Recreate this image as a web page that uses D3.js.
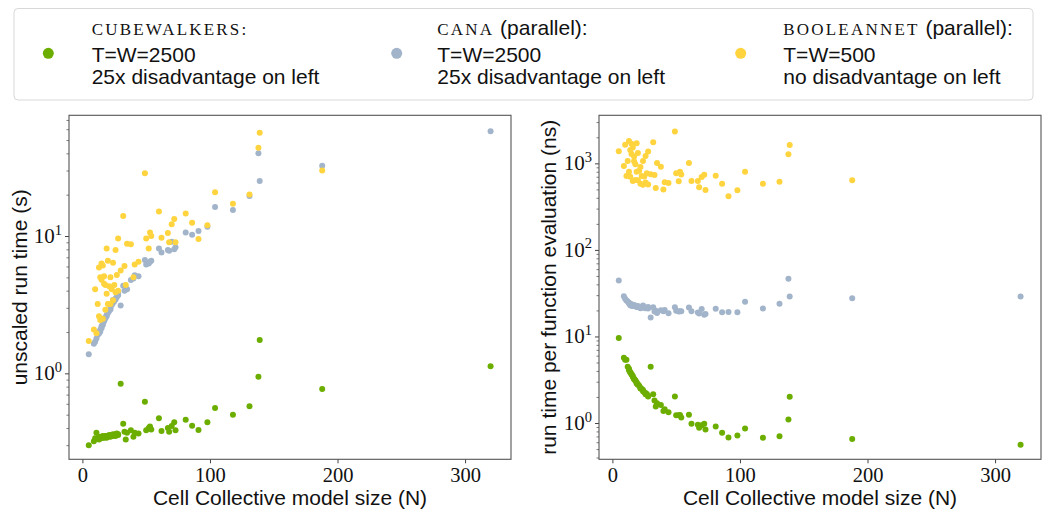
<!DOCTYPE html>
<html><head><meta charset="utf-8">
<script src="https://cdn.jsdelivr.net/npm/d3@7"></script>
<style>body{margin:0;background:#fff}</style>
</head><body><svg id="c" width="1050" height="522" xmlns="http://www.w3.org/2000/svg"></svg>
<script>
// ---- data ----
const modelSize = [5,9,10,11,12,13,13,14,14,15,15,16,16,17,17,18,18,19,19,20,20,21,22,22,23,24,24,25,26,26,27,28,28,30,32,33,34,35,38,40,41,44,49,50,52,53,54,60,62,67,68,70,72,73,81,86,91,98,104,118,131,138,139,188,320];
// unscaled run time (s)
const cubewalkersRuntime = [0.300,0.320,0.337,0.370,0.335,0.345,0.330,0.340,0.335,0.340,0.345,0.340,0.350,0.345,0.340,0.350,0.345,0.350,0.340,0.350,0.345,0.355,0.350,0.345,0.355,0.350,0.360,0.355,0.360,0.350,0.365,0.360,0.355,0.840,0.430,0.375,0.330,0.370,0.385,0.345,0.370,0.365,0.620,0.385,0.400,0.410,0.390,0.470,0.380,0.400,0.375,0.413,0.440,0.385,0.460,0.415,0.386,0.440,0.560,0.500,0.575,0.946,1.750,0.768,1.125];
const canaRuntime = [1.38,1.64,1.70,1.79,1.90,2.00,1.95,2.01,2.08,2.13,2.20,2.25,2.30,2.40,2.45,2.51,2.55,2.66,2.60,2.75,2.81,2.85,2.92,3.00,3.14,3.25,3.42,3.35,3.51,3.45,3.60,3.83,3.70,3.12,4.35,4.00,4.20,4.10,4.78,4.90,5.17,5.10,6.68,6.20,6.30,6.50,6.60,8.10,7.60,7.90,7.80,9.10,8.00,8.30,10.6,10.2,10.9,11.7,16.3,15.5,19.6,40.0,25.2,32.5,58.0];
const booleannetRuntime = [1.72,2.09,4.10,1.96,3.20,2.60,5.90,5.00,2.45,6.30,4.80,6.10,2.50,4.50,5.10,2.90,4.40,8.10,3.80,3.20,6.60,4.30,5.00,3.20,4.10,6.40,3.40,4.40,7.90,3.90,5.20,9.60,4.00,5.60,14.0,6.05,4.40,8.80,8.70,5.00,6.20,6.50,28.6,9.60,8.10,10.6,10.0,15.1,9.70,10.5,9.00,12.2,13.3,9.00,14.6,12.5,9.50,12.0,20.8,17.2,20.1,44.0,56.5,30.0,null];
// run time per function evaluation (ns)
const cubewalkersPerEval = [9.6,5.69,5.39,5.38,4.47,4.25,4.06,3.89,3.83,3.63,3.68,3.40,3.50,3.25,3.20,3.11,3.07,2.95,2.86,2.80,2.76,2.70,2.55,2.51,2.47,2.33,2.40,2.27,2.22,2.15,2.16,2.06,2.03,4.48,2.15,1.82,1.55,1.69,1.62,1.38,1.44,1.33,2.02,1.23,1.23,1.24,1.16,1.25,0.98,0.955,0.88,0.944,0.978,0.844,0.909,0.772,0.679,0.718,0.862,0.678,0.702,1.097,2.014,0.654,0.5625];
const canaPerEval = [44.2,29.2,27.2,26.0,25.3,24.6,24.0,23.0,23.8,22.7,23.5,22.5,23.0,22.6,23.1,22.3,22.7,22.4,21.9,22.0,22.5,21.7,21.2,21.8,21.8,21.7,22.8,21.4,21.6,21.2,21.3,21.9,21.1,16.6,21.75,19.4,19.8,18.7,20.1,19.6,20.2,18.5,21.8,19.8,19.4,19.6,19.6,21.6,19.6,18.9,18.4,20.8,17.8,18.2,20.9,19.0,19.2,19.1,25.1,21.0,23.9,46.4,29.0,27.7,29.0];
const booleannetPerEval = [1376,929,1640,713,1067,800,1815,1429,700,1680,1280,1525,625,1059,1200,644,978,1705,800,640,1320,819,909,582,713,1067,567,704,1215,600,770,1371,571,747,1750,733,518,1006,916,500,605,591,2335,768,623,800,741,1007,626,627,529,697,739,493,721,581,418,490,800,583,614,1275,1626,638,null];

const seriesNames = ["cubewalkers","cana","booleannet"];
const seriesColors = ["#6cae00","#a2b4ca","#ffd43e"];
const xTicks = [0,100,200,300];
const leftYTicks = [1,10];
const rightYTicks = [1,10,100,1000];
const xLabel = "Cell Collective model size (N)";
const leftYLabel = "unscaled run time (s)";
const rightYLabel = "run time per function evaluation (ns)";

// ---- drawing ----
const svg = d3.select("#c");
const SANS = "'Liberation Sans', Arial, sans-serif";
const SERIF = "'Liberation Serif', 'Times New Roman', serif";
const xDomain = [-10.5, 336];

function minorTicks(domain){
  const out=[]; const lo=Math.floor(Math.log10(domain[0])), hi=Math.ceil(Math.log10(domain[1]));
  for(let e=lo;e<=hi;e++) for(let m=2;m<=9;m++){const v=m*Math.pow(10,e); if(v>=domain[0]&&v<=domain[1]) out.push(v);}
  return out;
}

function panel(o){
  const x = d3.scaleLinear().domain(xDomain).range([o.x0,o.x1]);
  const y = d3.scaleLog().domain(o.yDomain).range([o.y1,o.y0]);
  const g = svg.append("g");
  o.series.forEach((vals,si)=>{
    g.append("g").selectAll("circle")
      .data(modelSize.map((n,i)=>[n,vals[i]]).filter(d=>d[1]!=null))
      .join("circle")
      .attr("cx",d=>x(d[0])).attr("cy",d=>y(d[1])).attr("r",3)
      .attr("fill",seriesColors[si]);
  });
  // x axis
  const gx = g.append("g").attr("transform",`translate(0,${o.y1})`)
    .call(d3.axisBottom(x).tickValues(xTicks).tickSize(4).tickPadding(4.5).tickFormat(d3.format("d")));
  gx.select(".domain").remove();
  gx.selectAll("line").attr("stroke","#444");
  gx.selectAll("text").attr("font-family",SERIF).attr("font-size",20.5).attr("fill","#111");
  // y axis majors
  const gy = g.append("g").attr("transform",`translate(${o.x0},0)`)
    .call(d3.axisLeft(y).tickValues(o.yTicks).tickSize(4).tickFormat(""));
  gy.select(".domain").remove();
  gy.selectAll("line").attr("stroke","#444");
  const gm = g.append("g").attr("transform",`translate(${o.x0},0)`)
    .call(d3.axisLeft(y).tickValues(minorTicks(o.yDomain)).tickSize(2.5).tickFormat(""));
  gm.select(".domain").remove();
  gm.selectAll("line").attr("stroke","#444").attr("stroke-width",0.7);
  // y tick labels 10^k
  o.yTicks.forEach(v=>{
    const t = g.append("text").attr("x",o.x0-7).attr("y",y(v)+7).attr("text-anchor","end")
      .attr("font-family",SERIF).attr("fill","#111");
    t.append("tspan").attr("font-size",21).text("10");
    t.append("tspan").attr("font-size",14.5).attr("dy",-8.5).text(String(Math.round(Math.log10(v))));
  });
  // frame
  g.append("rect").attr("x",o.x0).attr("y",o.y0).attr("width",o.x1-o.x0).attr("height",o.y1-o.y0)
    .attr("fill","none").attr("stroke","#555").attr("stroke-width",1.1);
  // labels
  g.append("text").attr("x",(o.x0+o.x1)/2).attr("y",505).attr("text-anchor","middle")
    .attr("font-family",SANS).attr("font-size",21).attr("fill","#111").text(xLabel);
  g.append("text").attr("transform",`translate(${o.labelX},${(o.y0+o.y1)/2}) rotate(-90)`)
    .attr("text-anchor","middle").attr("font-family",SANS).attr("font-size",21).attr("fill","#111").text(o.ylabel);
}

panel({x0:69,x1:511,y0:115.3,y1:459.3,yDomain:[0.2366,75.7],yTicks:leftYTicks,
  series:[cubewalkersRuntime,canaRuntime,booleannetRuntime],ylabel:leftYLabel,labelX:27});
panel({x0:599,x1:1041,y0:115.3,y1:459.3,yDomain:[0.381,3590],yTicks:rightYTicks,
  series:[cubewalkersPerEval,canaPerEval,booleannetPerEval],ylabel:rightYLabel,labelX:556});

// legend
const lg = svg.append("g");
lg.append("rect").attr("x",14).attr("y",8.5).attr("width",1019).attr("height",91.5).attr("rx",4)
  .attr("fill","#fff").attr("stroke","#d8d8d8").attr("stroke-width",1);
const legendHeads = [["CUBEWALKERS:",""],["CANA"," (parallel):"],["BOOLEANNET"," (parallel):"]];
const legendLine2 = ["T=W=2500","T=W=2500","T=W=500"];
const legendLine3 = ["25x disadvantage on left","25x disadvantage on left","no disadvantage on left"];
const legendMarkerX = [48.3,396.7,740.7];
const legendTextX = [91.7,437.3,783.3];
seriesNames.forEach((nm,i)=>{
  lg.append("circle").attr("cx",legendMarkerX[i]).attr("cy",53.3).attr("r",5.5).attr("fill",seriesColors[i]);
  const t1 = lg.append("text").attr("x",legendTextX[i]).attr("y",35).attr("fill","#111");
  t1.append("tspan").attr("font-family",SERIF).attr("font-size",17).attr("letter-spacing",2.2).text(legendHeads[i][0]);
  if(legendHeads[i][1]) t1.append("tspan").attr("font-family",SANS).attr("font-size",21).attr("letter-spacing",0).text(legendHeads[i][1]);
  lg.append("text").attr("x",legendTextX[i]).attr("y",61.7).attr("font-family",SANS).attr("font-size",21).attr("fill","#111").text(legendLine2[i]);
  lg.append("text").attr("x",legendTextX[i]).attr("y",84).attr("font-family",SANS).attr("font-size",21).attr("fill","#111").text(legendLine3[i]);
});
</script></body></html>
